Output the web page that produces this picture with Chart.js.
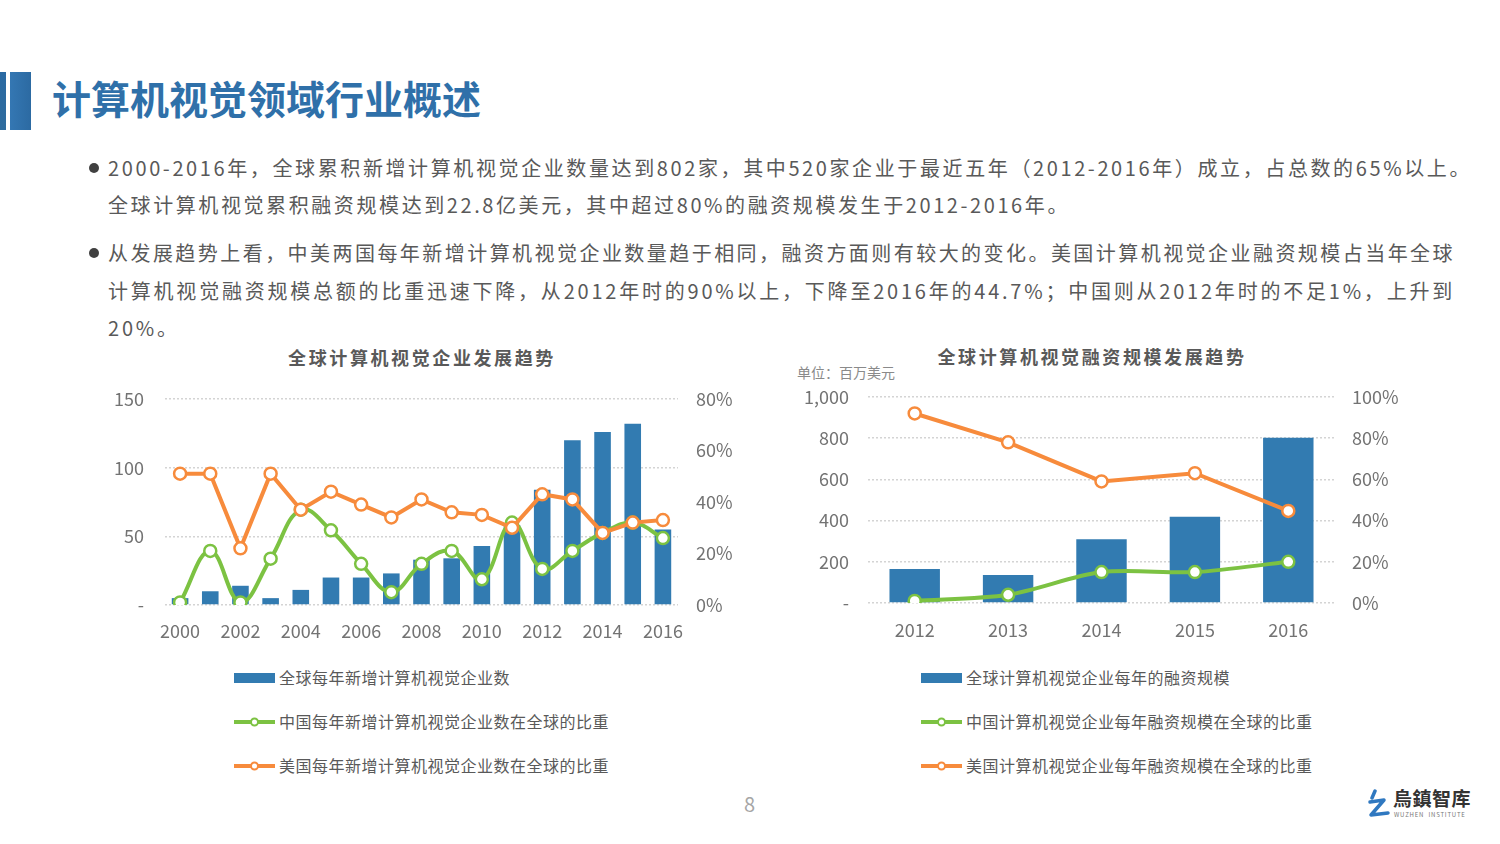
<!DOCTYPE html>
<html>
<head>
<meta charset="utf-8">
<script src="https://cdn.jsdelivr.net/npm/chart.js@4.4.1/dist/chart.umd.min.js"></script>
<style>
    body { margin: 0; width: 1500px; height: 844px; background: #fff; position: relative; overflow: hidden;
           font-family: "Noto Sans CJK SC", "Noto Sans", sans-serif; color: #595959; }
    .abs { position: absolute; white-space: nowrap; }
    .bar1 { position: absolute; left: 0; top: 72px; width: 6px; height: 58px; background: linear-gradient(#2a6aa3, #2f6c9e); }
    .bar2 { position: absolute; left: 10px; top: 72px; width: 21px; height: 58px; background: linear-gradient(90deg, #3477b3, #2c6aa2); }
    .title { left: 52px; top: 78px; font-size: 39px; line-height: 39px; font-weight: 700; color: #2f70a9; }
    .line { position: absolute; left: 108px; font-size: 20px; line-height: 24px; white-space: nowrap; color: #595959; }
    .dot { position: absolute; left: 89px; width: 10px; height: 10px; border-radius: 50%; background: #404040; }
    .ctitle { font-size: 18px; line-height: 20px; font-weight: 700; letter-spacing: 2.6px; color: #595959; transform: translateX(-50%); }
    .unit { left: 797px; top: 363px; font-size: 14px; line-height: 18px; color: #8a8a8a; }
    canvas { position: absolute; }
    .legend { position: absolute; }
    .legend .item { position: absolute; left: 0; height: 20px; white-space: nowrap; }
    .legend .icon { position: absolute; left: 0; top: 5px; width: 41px; height: 10px; }
    .legend .txt { position: absolute; left: 45px; top: -2px; font-size: 16px; line-height: 22px; letter-spacing: 0.5px; color: #595959; }
    .page { left: 744px; top: 792px; font-size: 20px; line-height: 24px; color: #a6a6a6; }
    .logo { left: 1393px; top: 787px; font-size: 19px; line-height: 22px; color: #333; font-weight: 700; letter-spacing: 0.5px; }
    .logo2 { left: 1394px; top: 811px; font-size: 6px; line-height: 8px; color: #777; letter-spacing: 0.8px; }
</style>
</head>
<body>
<div class="bar1"></div><div class="bar2"></div>
<div class="abs title">计算机视觉领域行业概述</div>

<div class="dot" style="top:163px"></div>
<div class="line" data-w="1364" style="top:156px">2000-2016年，全球累积新增计算机视觉企业数量达到802家，其中520家企业于最近五年（2012-2016年）成立，占总数的65%以上。</div>
<div class="line" data-w="962" style="top:193px">全球计算机视觉累积融资规模达到22.8亿美元，其中超过80%的融资规模发生于2012-2016年。</div>
<div class="dot" style="top:248px"></div>
<div class="line" data-w="1347" style="top:241px">从发展趋势上看，中美两国每年新增计算机视觉企业数量趋于相同，融资方面则有较大的变化。美国计算机视觉企业融资规模占当年全球</div>
<div class="line" id="l4" data-w="1347" style="top:279px">计算机视觉融资规模总额的比重迅速下降，从2012年时的90%以上，下降至2016年的44.7%；中国则从2012年时的不足1%，上升到</div>
<div class="line" id="l5" style="top:316px">20%。</div>

<div class="abs ctitle" style="left:422px;top:347px">全球计算机视觉企业发展趋势</div>
<div class="abs ctitle" style="left:1092px;top:346px">全球计算机视觉融资规模发展趋势</div>
<div class="abs unit">单位：百万美元</div>

<canvas id="leftChart" width="640" height="270" style="left:100px;top:380px"></canvas>
<canvas id="rightChart" width="640" height="272" style="left:780px;top:378px"></canvas>

<div class="legend" id="leftLegend" style="left:234px;top:668px"></div>
<div class="legend" id="rightLegend" style="left:921px;top:668px"></div>

<div class="abs page">8</div>
<svg class="abs" style="left:1366px;top:789px" width="26" height="30" viewBox="0 0 26 30">
    <path d="M9 2 L6 9" stroke="#2f78c0" stroke-width="3.5" stroke-linecap="round" fill="none"/>
    <path d="M4 13 L18 11 L5 26 L22 24" stroke="#2f78c0" stroke-width="3.5" stroke-linejoin="round" stroke-linecap="round" fill="none"/>
</svg>
<div class="abs logo">烏鎮智库</div>
<div class="abs logo2">WUZHEN&nbsp;&nbsp;INSTITUTE</div>

<script>
// 全球计算机视觉企业发展趋势 (2000-2016)
const years = ["2000", "2001", "2002", "2003", "2004", "2005", "2006", "2007", "2008",
               "2009", "2010", "2011", "2012", "2013", "2014", "2015", "2016"];
const newCompanies = [5, 10, 14, 5, 11, 20, 20, 23, 33, 34, 43, 58, 84, 120, 126, 132, 55];
const chinaShare = [1, 21, 1, 18, 37, 29, 16, 5, 16, 21, 10, 32, 14, 21, 28, 32, 26];
const usShare = [51, 51, 22, 51, 37, 44, 39, 34, 41, 36, 35, 30, 43, 41, 28, 32, 33];

// 全球计算机视觉融资规模发展趋势 (2012-2016), 单位：百万美元
const fundYears = ["2012", "2013", "2014", "2015", "2016"];
const funding = [165, 136, 309, 419, 802];
const chinaFundShare = [1, 4, 15, 15, 20];
const usFundShare = [92, 78, 59, 63, 44.7];

const leftLabels = ["全球每年新增计算机视觉企业数", "中国每年新增计算机视觉企业数在全球的比重", "美国每年新增计算机视觉企业数在全球的比重"];
const rightLabels = ["全球计算机视觉企业每年的融资规模", "中国计算机视觉企业每年融资规模在全球的比重", "美国计算机视觉企业每年融资规模在全球的比重"];

const BLUE = "#327bb1";
const GREEN = "#7cc242";
const ORANGE = "#f78b3c";
const TICK = "#737373";
const FONT = "Noto Sans CJK SC";

// stretch each text line to the width it has in the slide
document.querySelectorAll(".line[data-w]").forEach(el => {
    const n = el.textContent.length;
    const w = el.getBoundingClientRect().width;
    el.style.letterSpacing = ((+el.dataset.w - w) / n) + "px";
});
document.getElementById("l5").style.letterSpacing = document.getElementById("l4").style.letterSpacing;

function lineSet(label, data, color, axis, tension, order) {
    return {
        type: "line", label: label, data: data, yAxisID: axis, order: order,
        borderColor: color, borderWidth: 4, tension: tension,
        pointRadius: 6, pointBorderWidth: 2.5, pointBackgroundColor: "#fff", pointBorderColor: color
    };
}

function makeChart(id, cfg) {
    return new Chart(document.getElementById(id), {
        data: {
            labels: cfg.labels,
            datasets: [
                { type: "bar", label: cfg.names[0], data: cfg.bars, yAxisID: "y", order: 3,
                  backgroundColor: BLUE, categoryPercentage: 1, barPercentage: cfg.barPct },
                lineSet(cfg.names[1], cfg.green, GREEN, "y1", cfg.greenTension, 2),
                lineSet(cfg.names[2], cfg.orange, ORANGE, "y1", 0, 1)
            ]
        },
        options: {
            responsive: false,
            animation: false,
            layout: { padding: { top: 19 } },
            plugins: { legend: { display: false }, tooltip: { enabled: false } },
            scales: {
                x: {
                    offset: true,
                    grid: { display: false, drawTicks: false },
                    border: { display: false },
                    ticks: {
                        autoSkip: false, maxRotation: 0, padding: cfg.xPad, color: TICK,
                        font: { family: FONT, size: 18 },
                        callback: function (v, i) { return i % cfg.every === 0 ? this.getLabelForValue(v) : ""; }
                    },
                    afterFit: s => { s.height = cfg.xHeight; }
                },
                y: {
                    position: "left", min: 0, max: cfg.yMax,
                    // invisible tick marks keep the labels away from the plot
                    grid: { color: "#d4d4d4", lineWidth: 1.5, drawTicks: true, tickLength: cfg.yPad, tickColor: "rgba(0,0,0,0)" },
                    border: { display: false, dash: [2, 2] },
                    ticks: {
                        stepSize: cfg.yStep, padding: 0, color: TICK,
                        font: { family: FONT, size: 18 },
                        callback: v => v === 0 ? "-" : v.toLocaleString("en-US")
                    },
                    afterFit: s => { s.width = cfg.yWidth; }
                },
                y1: {
                    position: "right", min: 0, max: cfg.pMax,
                    grid: { display: false, drawTicks: true, tickLength: cfg.pPad },
                    border: { display: false },
                    ticks: {
                        stepSize: 20, padding: 0, color: TICK,
                        font: { family: FONT, size: 18 },
                        callback: v => v + "%"
                    },
                    afterFit: s => { s.width = cfg.pWidth; }
                }
            }
        }
    });
}

const leftChart = makeChart("leftChart", {
    labels: years, names: leftLabels, bars: newCompanies, green: chinaShare, orange: usShare,
    barPct: 0.55, greenTension: 0.4, every: 2,
    xPad: 15, xHeight: 45, yMax: 150, yStep: 50, yPad: 21, yWidth: 65, pMax: 80, pPad: 18, pWidth: 62
});

const rightChart = makeChart("rightChart", {
    labels: fundYears, names: rightLabels, bars: funding, green: chinaFundShare, orange: usFundShare,
    barPct: 0.54, greenTension: 0.3, every: 1,
    xPad: 16, xHeight: 47, yMax: 1000, yStep: 200, yPad: 19, yWidth: 88, pMax: 100, pPad: 17, pWidth: 85
});

// legends stacked vertically under each chart
function buildLegend(id, chart) {
    const box = document.getElementById(id);
    chart.data.datasets.forEach((ds, i) => {
        const item = document.createElement("div");
        item.className = "item";
        item.style.top = (i * 44) + "px";
        let icon;
        if (ds.type === "bar") {
            icon = `<div class="icon" style="background:${ds.backgroundColor}"></div>`;
        } else {
            icon = `<svg class="icon" width="41" height="10"><line x1="0" y1="5" x2="41" y2="5" stroke="${ds.borderColor}" stroke-width="4"/>` +
                   `<circle cx="20.5" cy="5" r="3.5" fill="#fff" stroke="${ds.borderColor}" stroke-width="2"/></svg>`;
        }
        item.innerHTML = icon + `<div class="txt">${ds.label}</div>`;
        box.appendChild(item);
    });
}
buildLegend("leftLegend", leftChart);
buildLegend("rightLegend", rightChart);
</script>
</body>
</html>
